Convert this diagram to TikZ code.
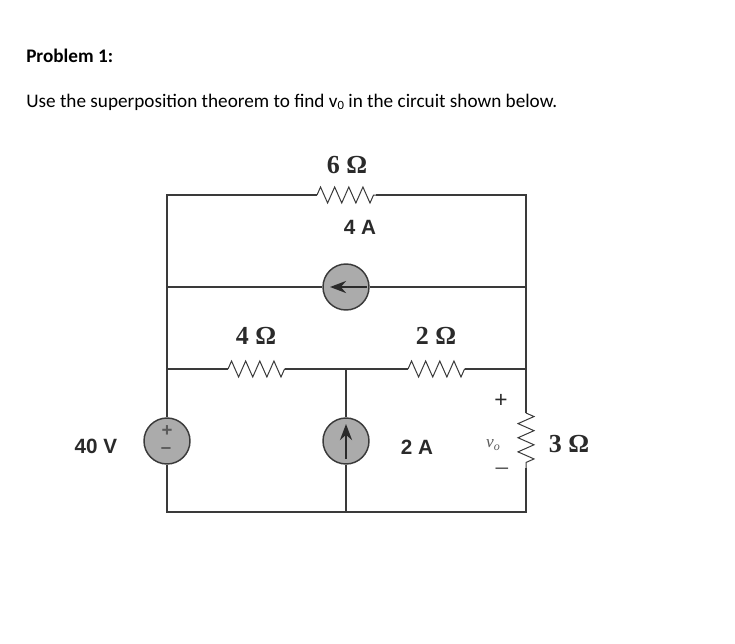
\documentclass[tikz,border=0pt]{standalone}
\usepackage{fontspec}
\setmainfont{Carlito}
\newfontfamily\serifl{Liberation Serif}
\newfontfamily\sansl{Liberation Sans}
\usetikzlibrary{decorations.pathmorphing,arrows.meta}
\definecolor{wire}{HTML}{3A3A3A}
\definecolor{srcfill}{HTML}{ABABAB}
\definecolor{ink}{HTML}{2A2A2A}
\definecolor{softink}{HTML}{5A5A5A}
\tikzset{
  wireline/.style={draw=wire,line width=.9pt},
  source/.style={circle,draw=wire,fill=srcfill,line width=1.1pt,minimum size=34.5pt,inner sep=0pt},
  rzig/.style={draw=wire,line width=.75pt,decorate,decoration={zigzag,amplitude=6pt,segment length=10.6pt}},
  heading/.style={anchor=base west,inner sep=0pt,text=black,font=\fontsize{14.4}{17}\selectfont},
  ohm/.style={inner sep=0pt,text=ink,font=\serifl\bfseries\fontsize{19.5}{22}\selectfont},
  amp/.style={inner sep=0pt,text=ink,font=\sansl\bfseries\fontsize{15.5}{18}\selectfont},
  arrowline/.style={draw=ink,line width=2pt,-{Stealth[length=12pt,width=9pt]}},
  polarity/.style={inner sep=0pt,text=ink,font=\sansl\fontsize{17}{19}\selectfont}
}
\begin{document}
\begin{tikzpicture}[x=0.75pt,y=-0.75pt]
\useasboundingbox (0,0) rectangle (735,643);
% text
\node[heading,font=\bfseries\fontsize{14.4}{17}\selectfont] (title) at (26,62) {Problem 1:};
\node[heading] (statement) at (26,107) {Use the superposition theorem to find v\raisebox{-.25ex}{\fontsize{9.5}{10}\selectfont 0} in the circuit shown below.};
% corners and junctions
\coordinate (tl) at (167,195);
\coordinate (tr) at (526,195);
\coordinate (ml) at (167,287);
\coordinate (mr) at (526,287);
\coordinate (ll) at (167,369);
\coordinate (lm) at (346,369);
\coordinate (lr) at (526,369);
\coordinate (bl) at (167,512);
\coordinate (bm) at (346,512);
\coordinate (br) at (526,512);
% resistor ends
\coordinate (r6a) at (317,195);
\coordinate (r6b) at (376,195);
\coordinate (r4a) at (228,369);
\coordinate (r4b) at (285,369);
\coordinate (r2a) at (408,369);
\coordinate (r2b) at (465,369);
\coordinate (r3a) at (526,413);
\coordinate (r3b) at (526,468);
% sources
\node[source] (s4) at (346,287) {};
\node[source] (s2) at (346,441) {};
\node[source] (s40) at (167,441) {};
% wires
\draw[wireline] (r6a) -- (tl) -- (ml) -- (ll) -- (s40);
\draw[wireline] (s40) -- (bl) -- (bm) -- (br) -- (r3b);
\draw[wireline] (r3a) -- (lr) -- (mr) -- (tr) -- (r6b);
\draw[wireline] (ml) -- (s4) -- (mr);
\draw[wireline] (ll) -- (r4a);
\draw[wireline] (r4b) -- (lm) -- (r2a);
\draw[wireline] (r2b) -- (lr);
\draw[wireline] (lm) -- (s2) -- (bm);
% resistors
\draw[rzig] (r6a) -- (r6b);
\draw[rzig] (r4a) -- (r4b);
\draw[rzig] (r2a) -- (r2b);
\draw[rzig] (r3a) -- (r3b);
% source arrows
\coordinate (a4s) at (367,287);
\coordinate (a4e) at (330,287);
\coordinate (a2s) at (346,459);
\coordinate (a2e) at (346,424);
\draw[arrowline] (a4s) -- (a4e);
\draw[arrowline] (a2s) -- (a2e);
% polarity in 40 V source
\node[polarity,text=softink,font=\sansl\bfseries\fontsize{14}{16}\selectfont] (vp) at (167,431) {+};
\node[polarity,text=softink,font=\sansl\bfseries\fontsize{14}{16}\selectfont] (vm) at (166,451) {–};
% labels
\node[ohm] (l6) at (347,165) {6 Ω};
\node[ohm] (l4) at (256,336) {4 Ω};
\node[ohm] (l2) at (436,336) {2 Ω};
\node[ohm] (l3) at (569,444) {3 Ω};
\node[amp] (a4) at (360,227) {4 A};
\node[amp] (a2) at (417,447) {2 A};
\node[amp] (a40) at (96,446) {40 V};
\node[polarity] (pp) at (501,401) {+};
\node[polarity,text=softink] (pm) at (502,471) {–};
\node[inner sep=0pt,text=softink,font=\serifl\itshape\fontsize{13}{15}\selectfont] (vo) at (493,445) {v\raisebox{-.3ex}{\fontsize{9}{10}\selectfont o}};
\end{tikzpicture}
\end{document}
